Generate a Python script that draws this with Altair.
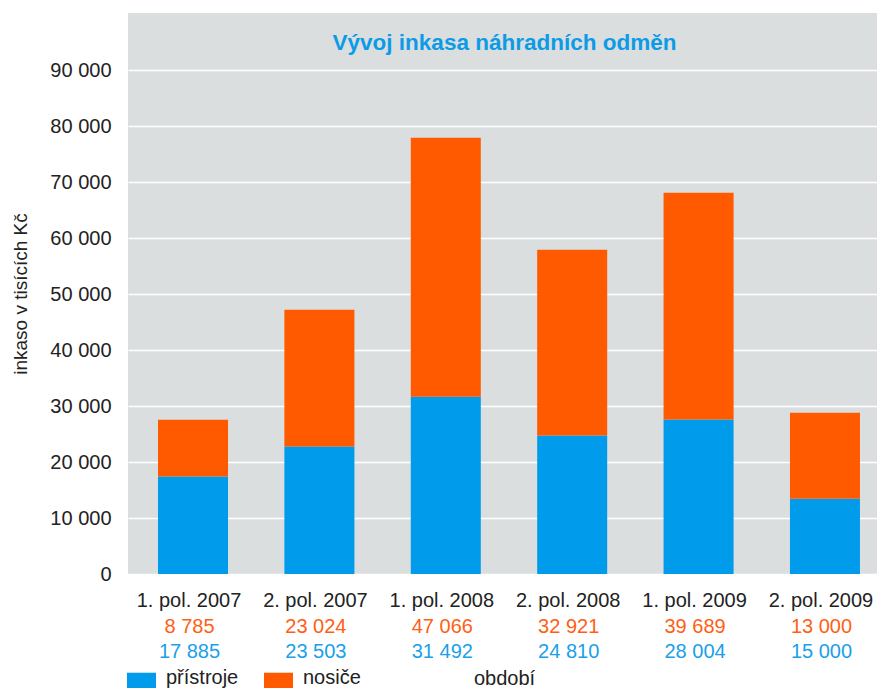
import altair as alt
import pandas as pd

# ---- data ----
periods = ["1. pol. 2007", "2. pol. 2007", "1. pol. 2008", "2. pol. 2008", "1. pol. 2009", "2. pol. 2009"]
# bar heights as drawn (thousands CZK)
pristroje_bar = [17400, 22750, 31650, 24750, 27600, 13450]
nosice_bar = [10150, 24450, 46250, 33150, 40500, 15350]
# printed values under the axis
nosice_text = [8785, 23024, 47066, 32921, 39689, 13000]
pristroje_text = [17885, 23503, 31492, 24810, 28004, 15000]
series = ["přístroje", "nosiče"]
y_ticks = [0, 10000, 20000, 30000, 40000, 50000, 60000, 70000, 80000, 90000]

BLUE = "#009CEB"
ORANGE = "#FF5A00"
GRAY = "#DBDEDF"
FONT = "Liberation Sans"
W, H = 749, 561

rows = []
for i, p in enumerate(periods):
    rows.append({"period": p, "series": series[0], "value": pristroje_bar[i], "ord": 0})
    rows.append({"period": p, "series": series[1], "value": nosice_bar[i], "ord": 1})
bars_df = pd.DataFrame(rows)

def fmt(v):
    return f"{v:,}".replace(",", " ")

text_df = pd.DataFrame({
    "period": periods,
    "nos": [fmt(v) for v in nosice_text],
    "pri": [fmt(v) for v in pristroje_text],
})

x_scale = alt.Scale(domain=periods, paddingInner=0.446, paddingOuter=0.186, align=0.638)

bars = alt.Chart(bars_df).mark_bar().encode(
    x=alt.X("period:N", scale=x_scale, sort=periods,
            axis=alt.Axis(title="období", labelAngle=0, ticks=False, tickSize=0, domain=False,
                          labelFontSize=20, labelColor="#222222", labelFont=FONT,
                          labelBaseline="alphabetic", labelPadding=32, labelOffset=-4,
                          titleFontSize=20, titleFontWeight="normal", titleColor="#222222",
                          titleFont=FONT, titleBaseline="alphabetic", titleY=110, titleX=376,
                          grid=False)),
    y=alt.Y("value:Q", stack="zero",
            scale=alt.Scale(domain=[0, 100180], nice=False),
            axis=alt.Axis(title="inkaso v tisících Kč", values=y_ticks, ticks=False, domain=False,
                          labelExpr="replace(format(datum.value, ','), ',', ' ')",
                          labelFontSize=20, labelColor="#222222", labelFont=FONT, labelPadding=17,
                          grid=True, gridColor="white", gridWidth=1.5,
                          titleFontSize=19, titleFontWeight="normal", titleColor="#222222",
                          titleFont=FONT, titleAngle=270, titleBaseline="alphabetic",
                          titleAlign="center", titleX=-102, titleY=H / 2)),
    color=alt.Color("series:N",
                    scale=alt.Scale(domain=series, range=[BLUE, ORANGE]),
                    legend=alt.Legend(title=None, orient="none", direction="horizontal",
                                      legendX=-1, legendY=656,
                                      symbolType="M-1,-0.76H1V0.76H-1Z", symbolSize=841,
                                      symbolStrokeWidth=0, symbolOpacity=1,
                                      labelFontSize=20, labelFont=FONT, labelColor="#222222",
                                      labelOffset=10, columnPadding=25,
                                      labelBaseline="alphabetic", padding=0)),
    order=alt.Order("ord:Q", sort="ascending"),
)

nos_text = alt.Chart(text_df).mark_text(
    fontSize=20, font=FONT, color="#FF5F14", baseline="alphabetic", align="center", dx=-3.5
).encode(x=alt.X("period:N", scale=x_scale, sort=periods), y=alt.value(620), text="nos:N")

pri_text = alt.Chart(text_df).mark_text(
    fontSize=20, font=FONT, color="#1AA0EA", baseline="alphabetic", align="center", dx=-3.5
).encode(x=alt.X("period:N", scale=x_scale, sort=periods), y=alt.value(645), text="pri:N")

title_df = pd.DataFrame({"t": ["Vývoj inkasa náhradních odměn"]})
title = alt.Chart(title_df).mark_text(
    fontSize=22.5, font=FONT, fontWeight="bold", color="#0C9BE6", baseline="alphabetic", align="center"
).encode(x=alt.value(376.5), y=alt.value(37), text="t:N")

chart = alt.layer(bars, nos_text, pri_text, title).properties(
    width=W, height=H,
    autosize=alt.AutoSizeParams(type="none"),
    padding={"left": 120, "top": 5, "right": 0, "bottom": 114},
    background="white",
).configure_view(fill=GRAY, stroke=None)

chart.save("out.html", embed_options={"renderer": "svg", "actions": False})
